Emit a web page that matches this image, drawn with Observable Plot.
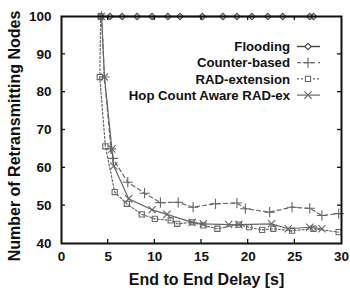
<!DOCTYPE html>
<html><head><meta charset="utf-8">
<script src="https://cdn.jsdelivr.net/npm/d3@7"></script>
<script src="https://cdn.jsdelivr.net/npm/@observablehq/plot@0.6"></script>
<style>body{margin:0;background:#fff}</style>
</head><body><div id="chart"></div>
<script>
const xTicks = [0, 5, 10, 15, 20, 25, 30];
const yTicks = [40, 50, 60, 70, 80, 90, 100];
const xLabel = "End to End Delay [s]";
const yLabel = "Number of Retransmitting Nodes";
const seriesNames = ["Flooding", "Counter-based", "RAD-extension", "Hop Count Aware RAD-ex"];

const floodDelay = [4.2, 5.2, 6.5, 8.1, 9.7, 11.4, 12.7, 15.1, 17.3, 18.8, 20.4, 22.1, 23.7, 26.6, 27.0];
const floodNodes = [100, 100, 100, 100, 100, 100, 100, 100, 100, 100, 100, 100, 100, 100, 100];

const counterDelay = [4.3, 4.6, 5.3, 5.5, 7.1, 8.9, 10.6, 12.5, 14.1, 16.5, 18.8, 19.7, 22.3, 24.7, 26.6, 27.9, 29.7];
const counterNodes = [100, 84, 65, 62.5, 56.2, 53.3, 50.8, 50.9, 49.6, 50.5, 50.7, 49.2, 48.3, 49.6, 49.3, 47.4, 47.9];

const radDelay = [4.2, 4.1, 4.7, 5.7, 7.0, 8.6, 10.0, 11.7, 12.4, 14.0, 15.2, 16.7, 19.0, 20.1, 21.5, 22.7, 24.7, 27.0, 29.7];
const radNodes = [100, 84, 65.7, 53.6, 50.5, 47.7, 46.5, 46.1, 45.2, 45.6, 44.8, 43.9, 45.0, 44.3, 43.6, 43.9, 43.4, 43.9, 43.0];

const hopDelay = [4.3, 4.6, 5.4, 5.6, 7.2, 9.7, 11.3, 14.0, 15.2, 17.9, 19.0, 22.5, 24.3, 26.6, 27.9];
const hopNodes = [100, 84, 65, 60.5, 51.8, 48.9, 47.7, 45.6, 45.2, 45.0, 45.0, 45.2, 43.9, 44.3, 43.9];

const toRows = (xs, ys) => xs.map((x, i) => ({x, y: ys[i]}));
const flood = toRows(floodDelay, floodNodes);
const counter = toRows(counterDelay, counterNodes);
const rad = toRows(radDelay, radNodes);
const hop = toRows(hopDelay, hopNodes);

const styles = [
  {data: flood, symbol: "diamond2", dash: null, stroke: "#444", width: 1.4, r: 2.9},
  {data: counter, symbol: "plus", dash: "4,3", stroke: "#666", width: 1.2, r: 3.4},
  {data: rad, symbol: "square2", dash: "2,2", stroke: "#666", width: 1.2, r: 3.3},
  {data: hop, symbol: "times", dash: null, stroke: "#666", width: 1.2, r: 3.4}
];

const marks = [];
for (const s of styles) {
  marks.push(Plot.line(s.data, {x: "x", y: "y", stroke: s.stroke, strokeWidth: s.width, strokeDasharray: s.dash}));
}
for (const s of styles) {
  marks.push(Plot.dot(s.data, {x: "x", y: "y", symbol: () => s.symbol, r: s.r, stroke: s.stroke, strokeWidth: 1.1, fill: "none"}));
}

const chart = Plot.plot({
  width: 350, height: 293,
  marginLeft: 61, marginRight: 9, marginTop: 16, marginBottom: 50,
  x: {domain: [0, 30]},
  y: {domain: [40, 100]},
  style: {fontFamily: "Liberation Sans, Arial, sans-serif", fontWeight: "bold", fontSize: "13.5px", color: "#111", background: "#fff"},
  marks: [
    Plot.axisX({ticks: xTicks, tickSize: 0, tickPadding: 8, label: null}),
    Plot.axisY({ticks: yTicks, tickSize: 0, tickPadding: 10, label: null}),
    ...marks,
    Plot.frame({stroke: "#111", strokeWidth: 2}),
    Plot.text([xLabel], {frameAnchor: "bottom", dx: 5, dy: 41, fontSize: 16, fontWeight: "bold", fill: "#111"}),
    Plot.text([yLabel], {frameAnchor: "left", textAnchor: "middle", dx: -47, dy: 6, rotate: -90, fontSize: 16, fontWeight: "bold", fill: "#111"})
  ]
});
document.getElementById("chart").appendChild(chart);

// inward tick marks and legend, positioned with the chart's own scales
const sx = chart.scale("x"), sy = chart.scale("y");
const svg = d3.select(chart);
const [x0, x1] = sx.range, [y0, y1] = sy.range;
const g = svg.append("g").attr("stroke", "#111").attr("stroke-width", 1.3);
for (const t of xTicks.slice(1, -1)) {
  const px = sx.apply(t);
  g.append("line").attr("x1", px).attr("x2", px).attr("y1", y0).attr("y2", y0 - 4);
  g.append("line").attr("x1", px).attr("x2", px).attr("y1", y1).attr("y2", y1 + 4);
}
for (const t of yTicks.slice(1, -1)) {
  const py = sy.apply(t);
  g.append("line").attr("x1", x0).attr("x2", x0 + 4).attr("y1", py).attr("y2", py);
  g.append("line").attr("x1", x1).attr("x2", x1 - 4).attr("y1", py).attr("y2", py);
}

const symMap = {diamond2: d3.symbolDiamond2, plus: d3.symbolPlus, square2: d3.symbolSquare2, times: d3.symbolTimes};
const leg = svg.append("g").attr("font-family", "Liberation Sans, Arial, sans-serif").attr("font-weight", "bold").attr("font-size", "13.2px");
seriesNames.forEach((name, i) => {
  const s = styles[i];
  const yy = y1 + 30.5 + i * 16.2;
  const xr = x1 - 51;
  leg.append("text").attr("x", xr).attr("y", yy).attr("dy", "0.36em").attr("text-anchor", "end").attr("fill", "#111").text(name);
  leg.append("line").attr("x1", xr + 7).attr("x2", xr + 30).attr("y1", yy).attr("y2", yy)
    .attr("stroke", s.stroke).attr("stroke-width", s.width).attr("stroke-dasharray", s.dash);
  leg.append("path").attr("d", d3.symbol(symMap[s.symbol], Math.PI * s.r * s.r)())
    .attr("transform", `translate(${xr + 18},${yy})`)
    .attr("fill", "#fff").attr("stroke", s.stroke).attr("stroke-width", 1.1);
});
</script>
</body></html>
